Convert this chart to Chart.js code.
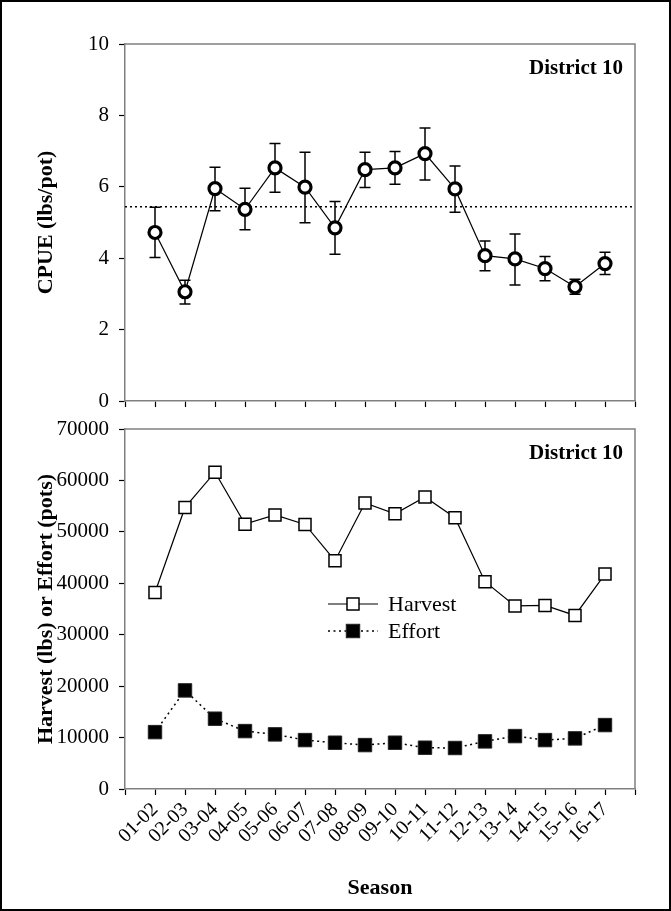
<!DOCTYPE html>
<html>
<head>
<meta charset="utf-8">
<script src="https://cdn.jsdelivr.net/npm/chart.js@4/dist/chart.umd.min.js"></script>
<style>
  html, body { margin: 0; padding: 0; background: #fff; }
  #page { position: relative; width: 671px; height: 911px; overflow: hidden; background: #fff; }
  #page canvas { position: absolute; left: 0; top: 0; }
  #frame { position: absolute; left: 0; top: 0; width: 667px; height: 907px; border: 2px solid #000; pointer-events: none; }
</style>
</head>
<body>
<div id="page">
  <canvas id="cpueChart" width="671" height="911"></canvas>
  <canvas id="catchChart" width="671" height="911"></canvas>
  <div id="frame"></div>
</div>
<script>
// Seasons on the shared x axis
const seasons = ['01-02','02-03','03-04','04-05','05-06','06-07','07-08','08-09',
                 '09-10','10-11','11-12','12-13','13-14','14-15','15-16','16-17'];

// Catch per unit effort (lbs/pot) with upper / lower error limits
const cpue      = [4.72, 3.06, 5.95, 5.37, 6.53, 5.99, 4.85, 6.48, 6.53, 6.93, 5.94, 4.07, 3.98, 3.71, 3.20, 3.85];
const cpueUpper = [5.43, 3.38, 6.55, 5.96, 7.21, 6.97, 5.59, 6.97, 6.99, 7.65, 6.58, 4.48, 4.68, 4.05, 3.41, 4.17];
const cpueLower = [4.02, 2.72, 5.33, 4.80, 5.85, 4.99, 4.11, 5.98, 6.07, 6.19, 5.29, 3.65, 3.25, 3.37, 2.99, 3.54];
const cpueMean  = 5.44;

// Harvest (lbs) and effort (pots)
const harvest = [38200, 54750, 61600, 51500, 53300, 51450, 44400, 55600, 53500, 56800, 52750, 40300, 35600, 35700, 33750, 41800];
const effort  = [11060, 19170, 13670, 11260, 10620, 9510, 9000, 8540, 9000, 8030, 7970, 9260, 10290, 9510, 9840, 12430];

const districtLabel = 'District 10';

const SERIF = "'Liberation Serif', 'Times New Roman', serif";
const AXIS_GREY = '#808080';

const asPoints = arr => arr.map((v, i) => ({ x: i, y: v }));

// Grey box round the plotting area (top and right edges; axes draw the rest)
const boxPlugin = {
  id: 'box',
  beforeDatasetsDraw(chart) {
    const { ctx, chartArea: a } = chart;
    ctx.save();
    ctx.strokeStyle = AXIS_GREY;
    ctx.lineWidth = 1.5;
    ctx.beginPath();
    ctx.moveTo(a.left, a.top);
    ctx.lineTo(a.right, a.top);
    ctx.lineTo(a.right, a.bottom);
    ctx.stroke();
    ctx.restore();
  }
};

// Panel caption in the upper-right corner
const captionPlugin = {
  id: 'caption',
  afterDatasetsDraw(chart) {
    const { ctx, chartArea: a } = chart;
    ctx.save();
    ctx.font = 'bold 21px ' + SERIF;
    ctx.fillStyle = '#000';
    ctx.textAlign = 'right';
    ctx.textBaseline = 'middle';
    ctx.fillText(districtLabel, a.right - 12, a.top + 25);
    ctx.restore();
  }
};

// Vertical error bars with caps, drawn beneath the markers
const errorBarPlugin = {
  id: 'errorBars',
  beforeDatasetsDraw(chart) {
    const { ctx, scales: { x, y } } = chart;
    ctx.save();
    ctx.strokeStyle = '#000';
    ctx.lineWidth = 1.5;
    const cap = 5.5;
    cpue.forEach((_, i) => {
      const px = x.getPixelForValue(i);
      const yHi = y.getPixelForValue(cpueUpper[i]);
      const yLo = y.getPixelForValue(cpueLower[i]);
      ctx.beginPath();
      ctx.moveTo(px, yHi); ctx.lineTo(px, yLo);
      ctx.moveTo(px - cap, yHi); ctx.lineTo(px + cap, yHi);
      ctx.moveTo(px - cap, yLo); ctx.lineTo(px + cap, yLo);
      ctx.stroke();
    });
    ctx.restore();
  }
};

// Legend drawn inside the plotting area from each dataset's own style
const innerLegendPlugin = {
  id: 'innerLegend',
  afterDatasetsDraw(chart) {
    const { ctx, chartArea: a } = chart;
    ctx.save();
    chart.data.datasets.forEach((ds, i) => {
      const yy = a.top + 175 + i * 27;
      const x0 = a.left + 203, x1 = a.left + 253, xm = (x0 + x1) / 2;
      ctx.strokeStyle = ds.borderColor;
      ctx.lineWidth = ds.borderWidth;
      ctx.setLineDash(ds.borderDash || []);
      ctx.beginPath();
      ctx.moveTo(x0, yy); ctx.lineTo(x1, yy);
      ctx.stroke();
      ctx.setLineDash([]);
      const half = ds.pointRadius * Math.SQRT1_2;
      ctx.fillStyle = ds.pointBackgroundColor;
      ctx.fillRect(xm - half, yy - half, 2 * half, 2 * half);
      ctx.lineWidth = ds.pointBorderWidth;
      ctx.strokeStyle = ds.pointBorderColor;
      ctx.strokeRect(xm - half, yy - half, 2 * half, 2 * half);
      ctx.fillStyle = '#000';
      ctx.font = '22px ' + SERIF;
      ctx.textAlign = 'left';
      ctx.textBaseline = 'middle';
      ctx.fillText(ds.label, a.left + 263, yy + 1);
    });
    ctx.restore();
  }
};

function xAxis(withLabels, height) {
  return {
    type: 'linear',
    min: -1,
    max: 16,
    afterFit: s => { s.height = height; },
    grid: { drawOnChartArea: false, drawTicks: true, tickLength: 6, tickColor: '#000', tickWidth: 1.2 },
    border: { display: true, color: AXIS_GREY, width: 1.5 },
    ticks: {
      display: withLabels,
      stepSize: 1,
      autoSkip: false,
      minRotation: 45,
      maxRotation: 45,
      padding: 3,
      color: '#000',
      font: { family: SERIF, size: 20 },
      callback: v => seasons[v] ?? ''
    },
    title: withLabels ? {
      display: true,
      text: 'Season',
      color: '#000',
      font: { family: SERIF, size: 22, weight: 'bold' },
      padding: { top: 0, bottom: 9 }
    } : { display: false }
  };
}

function yAxis(min, max, step, titleText) {
  return {
    min, max,
    afterFit: s => { s.width = 125; },
    grid: { drawOnChartArea: false, drawTicks: true, tickLength: 6, tickColor: '#000', tickWidth: 1.2 },
    border: { display: true, color: AXIS_GREY, width: 1.5 },
    ticks: {
      stepSize: step,
      padding: 10,
      color: '#000',
      font: { family: SERIF, size: 21 },
      callback: v => String(v)
    },
    title: {
      display: true,
      text: titleText,
      color: '#000',
      font: { family: SERIF, size: 22, weight: 'bold' },
      padding: { top: 33, bottom: 0 }
    }
  };
}

const common = {
  responsive: false,
  animation: false,
  events: [],
  devicePixelRatio: 1,
  plugins: { legend: { display: false }, tooltip: { enabled: false } }
};

// Upper panel: CPUE
new Chart(document.getElementById('cpueChart'), {
  type: 'line',
  data: {
    datasets: [
      {
        label: 'CPUE',
        data: asPoints(cpue),
        borderColor: '#000',
        borderWidth: 1.2,
        tension: 0,
        pointStyle: 'circle',
        pointRadius: 6,
        pointBorderWidth: 3.2,
        pointBorderColor: '#000',
        pointBackgroundColor: '#fff'
      },
      {
        label: 'Mean',
        data: [{ x: -1, y: cpueMean }, { x: 16, y: cpueMean }],
        borderColor: '#000',
        borderWidth: 1.5,
        borderDash: [2, 3],
        pointRadius: 0
      }
    ]
  },
  options: {
    ...common,
    layout: { padding: { top: 44, right: 36, bottom: 502, left: 0 } },
    scales: {
      x: xAxis(false, 8),
      y: yAxis(0, 10, 2, 'CPUE (lbs/pot)')
    }
  },
  plugins: [boxPlugin, errorBarPlugin, captionPlugin]
});

// Lower panel: harvest and effort
new Chart(document.getElementById('catchChart'), {
  type: 'line',
  data: {
    datasets: [
      {
        label: 'Harvest',
        data: asPoints(harvest),
        borderColor: '#000',
        borderWidth: 1.2,
        tension: 0,
        pointStyle: 'rect',
        pointRadius: 8.5,
        pointBorderWidth: 1.5,
        pointBorderColor: '#000',
        pointBackgroundColor: '#fff'
      },
      {
        label: 'Effort',
        data: asPoints(effort),
        borderColor: '#000',
        borderWidth: 1.5,
        borderDash: [2, 3.5],
        tension: 0,
        pointStyle: 'rect',
        pointRadius: 9.5,
        pointBorderWidth: 1,
        pointBorderColor: '#222',
        pointBackgroundColor: '#000'
      }
    ]
  },
  options: {
    ...common,
    layout: { padding: { top: 429, right: 36, bottom: 0, left: 0 } },
    scales: {
      x: xAxis(true, 122),
      y: yAxis(0, 70000, 10000, 'Harvest (lbs) or Effort (pots)')
    }
  },
  plugins: [boxPlugin, captionPlugin, innerLegendPlugin]
});
</script>
</body>
</html>
